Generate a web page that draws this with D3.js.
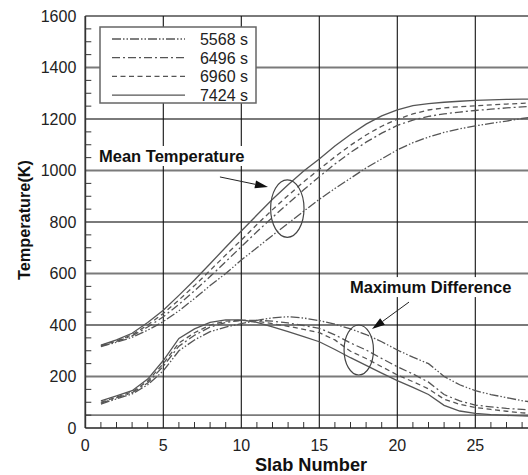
<!DOCTYPE html>
<html>
<head>
<meta charset="utf-8">
<script src="https://cdn.jsdelivr.net/npm/d3@7"></script>
<style>
  body { margin: 0; background: #fff; }
  svg { display: block; font-family: "Liberation Sans", Arial, sans-serif; }
</style>
</head>
<body>
<div id="container"></div>
<script>

// slab numbers
var slabs = [1,2,3,4,5,6,7,8,9,10,11,12,13,14,15,16,17,18,19,20,21,22,23,24,25,26,27,28,29];

// series names (legend)
var seriesNames = ["5568 s", "6496 s", "6960 s", "7424 s"];

// mean temperature (K)
var mean5568 = [316,333,352,380,413,455,503,553,600,652,700,748,795,842,888,930,970,1010,1045,1080,1108,1130,1148,1162,1173,1183,1192,1202,1210];
var mean6496 = [318,336,358,392,432,480,533,588,646,704,762,818,872,925,976,1025,1070,1110,1145,1175,1196,1210,1220,1227,1233,1238,1243,1247,1250];
var mean6960 = [320,338,362,400,445,497,553,612,672,730,790,848,903,956,1005,1053,1098,1138,1172,1199,1220,1235,1243,1248,1251,1255,1258,1261,1263];
var mean7424 = [322,342,368,410,457,515,575,638,702,765,827,888,945,998,1045,1095,1140,1180,1212,1235,1252,1260,1265,1269,1272,1274,1276,1277,1278];

// maximum difference (K)
var diff5568 = [93,113,132,168,222,300,342,374,392,405,418,428,432,427,417,403,385,363,335,303,275,250,200,168,145,130,118,106,98];
var diff6496 = [97,117,137,175,240,318,360,392,410,418,418,415,408,398,387,362,330,303,270,238,210,178,130,105,89,82,76,72,68];
var diff6960 = [100,120,140,182,250,330,370,400,415,418,415,405,395,383,370,342,298,270,238,206,180,152,112,92,80,72,65,59,55];
var diff7424 = [105,125,145,190,262,348,385,410,420,420,410,393,374,355,335,305,273,243,213,184,158,130,88,66,57,52,49,47,46];

var xTicks = [0,5,10,15,20,25];
var yTicks = [0,200,400,600,800,1000,1200,1400,1600];

function init() {
	render();
}

function render() {
	var width = 528, height = 475;
	var svg = d3.select("#container")
		.append("svg")
		.attr("width", width)
		.attr("height", height);

	var x = d3.scaleLinear().domain([0, 30]).range([85.3, 85.3 + 30 * 15.6]);
	var y = d3.scaleLinear().domain([0, 1600]).range([428, 16]);

	var styles = [
		{dash: "9,2,1.5,2,1.5,2"},
		{dash: "8,3,2,3"},
		{dash: "5,3.5"},
		{dash: null}
	];
	var lineColor = "#555";

	// horizontal grid (gray, thick)
	var hLines = yTicks.slice(1, 8).concat([50]);
	svg.selectAll(".hgrid")
		.data(hLines)
		.enter()
		.append("line")
		.attr("x1", x(0)).attr("x2", width)
		.attr("y1", d => y(d)).attr("y2", d => y(d))
		.attr("stroke", "#7a7a7a")
		.attr("stroke-width", 1.8);

	// top border
	svg.append("line")
		.attr("x1", x(0)).attr("x2", width)
		.attr("y1", y(1600)).attr("y2", y(1600))
		.attr("stroke", "#7a7a7a").attr("stroke-width", 1.8);

	// vertical grid
	svg.selectAll(".vgrid")
		.data(xTicks.slice(1))
		.enter()
		.append("line")
		.attr("x1", d => x(d)).attr("x2", d => x(d))
		.attr("y1", y(1600)).attr("y2", y(0))
		.attr("stroke", "#111")
		.attr("stroke-width", 1.1);

	// minor ticks on y axis
	var yMinor = d3.range(50, 1600, 50).filter(d => d % 200 != 0);
	svg.selectAll(".ymin")
		.data(yMinor)
		.enter()
		.append("line")
		.attr("x1", x(0)).attr("x2", x(0) + 6)
		.attr("y1", d => y(d)).attr("y2", d => y(d))
		.attr("stroke", "#333").attr("stroke-width", 1);

	// minor ticks on x axis
	var xMinor = d3.range(1, 30).filter(d => d % 5 != 0);
	svg.selectAll(".xmin")
		.data(xMinor)
		.enter()
		.append("line")
		.attr("x1", d => x(d)).attr("x2", d => x(d))
		.attr("y1", y(0)).attr("y2", y(0) - 6)
		.attr("stroke", "#333").attr("stroke-width", 1);

	// axes lines
	svg.append("line")
		.attr("x1", x(0)).attr("x2", x(0))
		.attr("y1", y(1600)).attr("y2", y(0))
		.attr("stroke", "#333").attr("stroke-width", 1.8);
	svg.append("line")
		.attr("x1", x(0)).attr("x2", width)
		.attr("y1", y(0)).attr("y2", y(0))
		.attr("stroke", "#222").attr("stroke-width", 1.6);

	// tick labels
	svg.selectAll(".ylab")
		.data(yTicks)
		.enter()
		.append("text")
		.attr("x", x(0) - 9)
		.attr("y", d => y(d) + 5.5)
		.attr("text-anchor", "end")
		.attr("font-size", 16)
		.attr("fill", "#222")
		.text(d => d);

	svg.selectAll(".xlab")
		.data(xTicks)
		.enter()
		.append("text")
		.attr("x", d => x(d))
		.attr("y", y(0) + 23)
		.attr("text-anchor", "middle")
		.attr("font-size", 16)
		.attr("fill", "#222")
		.text(d => d);

	// axis titles
	svg.append("text")
		.attr("transform", "translate(29.5," + 220 + ") rotate(-90)")
		.attr("text-anchor", "middle")
		.attr("font-size", 16.3)
		.attr("font-weight", "bold")
		.attr("fill", "#111")
		.text("Temperature(K)");

	svg.append("text")
		.attr("x", 311)
		.attr("y", 471)
		.attr("text-anchor", "middle")
		.attr("font-size", 18.2)
		.attr("font-weight", "bold")
		.attr("fill", "#111")
		.text("Slab Number");

	// curves
	var line = d3.line()
		.x((d, i) => x(slabs[i]))
		.y(d => y(d));

	var meanSets = [mean5568, mean6496, mean6960, mean7424];
	var diffSets = [diff5568, diff6496, diff6960, diff7424];

	[meanSets, diffSets].forEach(sets => {
		svg.append("g")
			.selectAll("path")
			.data(sets)
			.enter()
			.append("path")
			.attr("d", d => line(d))
			.attr("fill", "none")
			.attr("stroke", lineColor)
			.attr("stroke-width", 1.3)
			.attr("stroke-dasharray", (d, i) => styles[i].dash);
	});

	// annotations
	function label(txt, dx, dy) {
		var t = svg.append("text")
			.attr("x", x(dx))
			.attr("y", y(dy))
			.attr("font-size", 16.5)
			.attr("font-weight", "bold")
			.attr("fill", "#111")
			.text(txt);
		var bb = t.node().getBBox();
		svg.insert("rect", function() { return t.node(); })
			.attr("x", bb.x - 3).attr("y", bb.y - 1)
			.attr("width", bb.width + 6).attr("height", bb.height + 2)
			.attr("fill", "#fff");
	}
	label("Mean Temperature", 0.88, 1033);
	label("Maximum Difference", 16.97, 524);

	function arrow(x1, y1, x2, y2) {
		var px1 = x(x1), py1 = y(y1), px2 = x(x2), py2 = y(y2);
		var ang = Math.atan2(py2 - py1, px2 - px1);
		var len = 13, w = 4;
		var bx = px2 - len * Math.cos(ang), by = py2 - len * Math.sin(ang);
		svg.append("line")
			.attr("x1", px1).attr("y1", py1)
			.attr("x2", bx).attr("y2", by)
			.attr("stroke", "#222").attr("stroke-width", 1);
		svg.append("path")
			.attr("d", "M" + px2 + "," + py2 +
				"L" + (bx + w * Math.sin(ang)) + "," + (by - w * Math.cos(ang)) +
				"L" + (bx - w * Math.sin(ang)) + "," + (by + w * Math.cos(ang)) + "Z")
			.attr("fill", "#111");
	}
	arrow(8.63, 975, 11.71, 936);
	arrow(20.75, 489, 18.38, 384);

	function ring(cx, cy, rx, ry) {
		svg.append("ellipse")
			.attr("cx", x(cx)).attr("cy", y(cy))
			.attr("rx", rx).attr("ry", ry)
			.attr("fill", "none")
			.attr("stroke", "#444").attr("stroke-width", 1.2);
	}
	ring(12.95, 852, 16.7, 28.7);
	ring(17.53, 303, 14.7, 25);

	// legend
	var lg = svg.append("g");
	lg.append("rect")
		.attr("x", 100).attr("y", 27)
		.attr("width", 156).attr("height", 76)
		.attr("fill", "#fff")
		.attr("stroke", "#666").attr("stroke-width", 1.5);
	var items = lg.selectAll(".item")
		.data(seriesNames)
		.enter()
		.append("g")
		.attr("transform", (d, i) => "translate(0," + (39 + i * 18.7) + ")");
	items.append("line")
		.attr("x1", 112).attr("x2", 185)
		.attr("y1", 0).attr("y2", 0)
		.attr("stroke", lineColor).attr("stroke-width", 1.3)
		.attr("stroke-dasharray", (d, i) => styles[i].dash);
	items.append("text")
		.attr("x", 248)
		.attr("y", 6)
		.attr("text-anchor", "end")
		.attr("font-size", 16)
		.attr("fill", "#222")
		.text(d => d);
}

init();
</script>
</body>
</html>
